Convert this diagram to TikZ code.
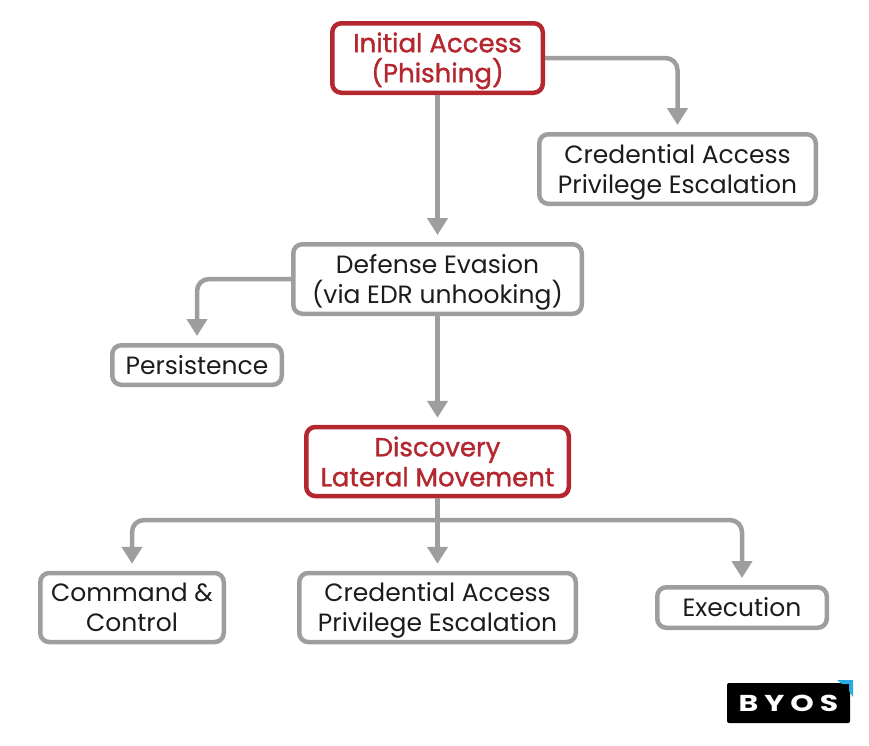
\documentclass[tikz,border=0pt]{standalone}
\usepackage{fontspec}
\setmainfont{Poppins}
\usetikzlibrary{arrows.meta}
\definecolor{Crimson}{HTML}{B4272F}
\definecolor{Steel}{HTML}{9E9E9E}
\definecolor{Ink}{HTML}{1C1C1C}
\definecolor{Sky}{HTML}{29ABE2}
\newcommand{\up}{\rule{0pt}{25.5pt}}

\begin{document}
\begin{tikzpicture}[x=1pt,y=-1pt,
link/.style={draw=Steel,line width=4.5pt,rounded corners=12pt,shorten >=7pt,-{Triangle[length=17pt,width=20pt]}},
box/.style 2 args={draw=Steel,line width=4.5pt,rounded corners=9pt,align=center,inner sep=0pt,text=Ink,
  minimum width=#1pt,minimum height=#2pt},
key/.style 2 args={box={#1}{#2},draw=Crimson,text=Crimson,font=\fontsize{26}{30}\selectfont\addfontfeature{FakeBold=1.3}},
nodes={font=\fontsize{25}{30}\selectfont}]
\useasboundingbox (0,0) rectangle (869,745);
\path
(437.5,58) node[key={210.5}{69.5}] (init) {\up Initial Access\\(Phishing)}
(677.5,169) node[box={276.5}{69.5}] (credA) {\up Credential Access\\Privilege Escalation}
(437.5,279) node[box={288.5}{69.5}] (evasion) {\up Defense Evasion\\(via EDR unhooking)}
(197,365) node[box={169.5}{39.5}] (persist) {Persistence}
(437.5,461.5) node[key={262.5}{69}] (disc) {Discovery\\Lateral Movement}
(132,607.5) node[box={183.5}{69}] (cmd) {Command \&\\Control}
(437.5,607.5) node[box={276.5}{69}] (credB) {\up Credential Access\\Privilege Escalation}
(742,607.5) node[box={169.5}{40.5}] (exec) {Execution}
;
\coordinate (bus) at (437.5,520);
\draw[link] (init) -- (evasion);
\draw[link] (init.east) -| (credA.north);
\draw[link] (evasion.west) -| (persist.north);
\draw[link] (evasion) -- (disc);
\draw[link] (disc.south) -- (credB.north);
\draw[link] (bus) -| (cmd.north);
\draw[link] (bus) -| (exec.north);
% logo
\node[fill=black,rounded corners=2pt,minimum width=123pt,minimum height=40pt,inner sep=0pt,text=white] (logo) at (788.5,703)
  {\fontsize{23}{23}\selectfont\bfseries\addfontfeature{FakeStretch=1.3,LetterSpace=26}BYOS};
\fill[Sky] (837,680) -- (853,680) -- (853,697) -- (849,691) -- (849,684) -- (842,684) -- cycle;
\end{tikzpicture}
\end{document}
